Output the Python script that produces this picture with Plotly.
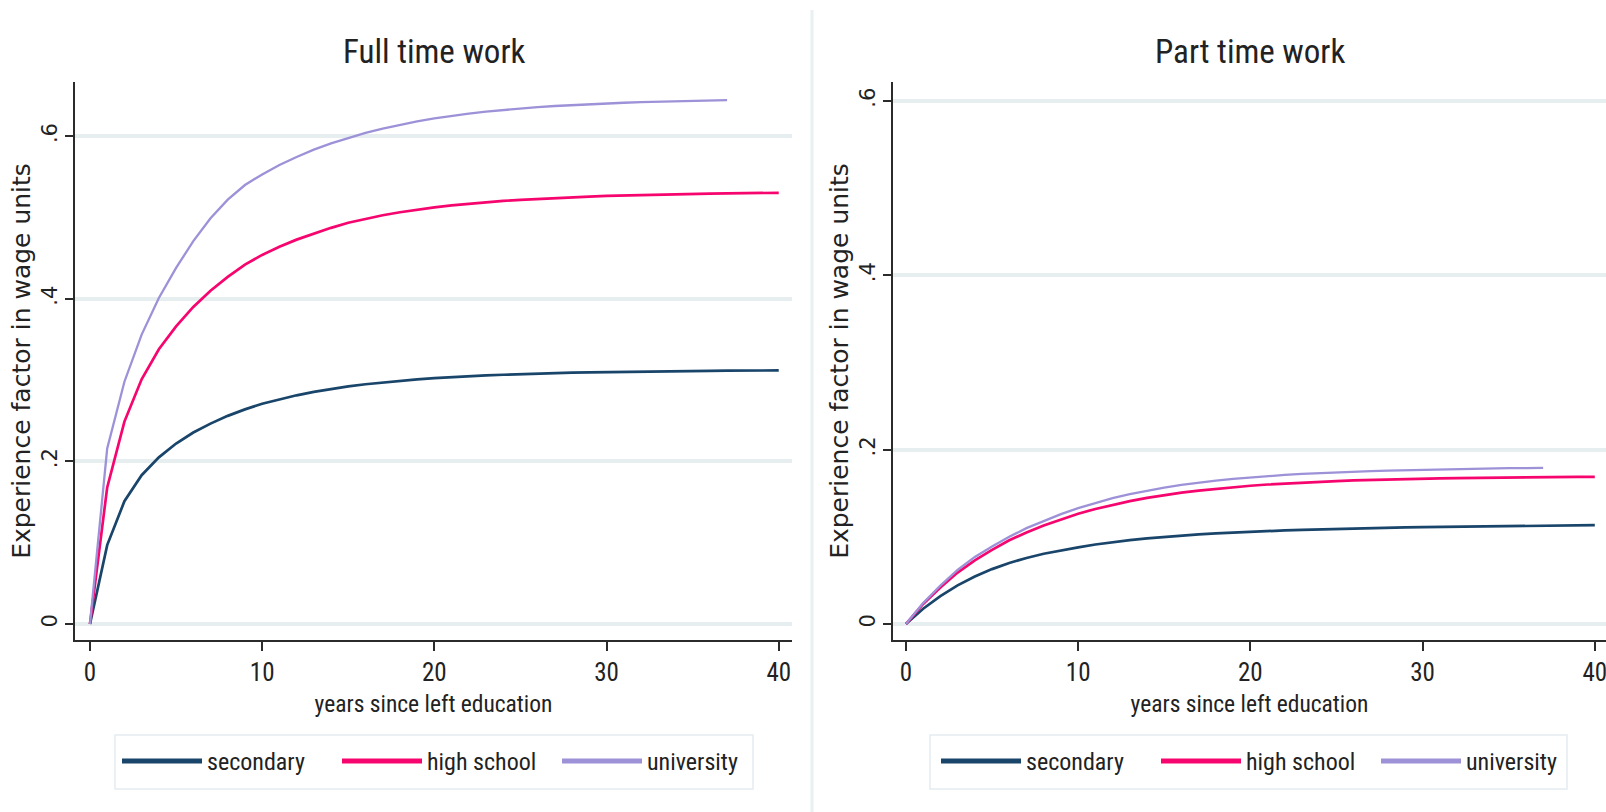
import plotly.graph_objects as go

W, H = 1606, 812

# ---------------- data ----------------
years = list(range(0, 41))
years_uni = list(range(0, 38))

full_secondary = [0, .097, .151, .183, .205, .222, .2355, .2465, .2560, .2640, .2710,
                  .2765, .2813, .2855, .2891, .2922, .2949, .2972, .2992, .3009, .3024,
                  .3037, .3048, .3058, .3066, .3074, .3080, .3086, .3091, .3095, .3099,
                  .3102, .3105, .3108, .3110, .3112, .3114, .3116, .3117, .3118, .3119]
full_highschool = [0, .168, .249, .301, .338, .366, .390, .410, .427, .442, .454,
                   .4640, .4728, .4805, .4873, .4935, .4985, .5028, .5065, .5097, .5125,
                   .5149, .5170, .5188, .5204, .5218, .5230, .5241, .5250, .5258, .5265,
                   .5271, .5277, .5282, .5286, .5290, .5294, .5297, .5300, .5302, .5304]
full_university = [0, .216, .298, .356, .401, .438, .471, .499, .522, .540, .553,
                   .5645, .5745, .5835, .5913, .5980, .6040, .6093, .6140, .6182, .6219,
                   .6251, .6279, .6303, .6324, .6342, .6358, .6372, .6384, .6395, .6404,
                   .6412, .6419, .6425, .6430, .6435, .6439, .6443]

part_secondary = [0, .0175, .0320, .0443, .0545, .0630, .0700, .0758, .0806, .0846, .0880,
                  .0912, .0940, .0963, .0982, .0999, .1015, .1028, .1040, .1050, .1059,
                  .1067, .1074, .1080, .1086, .1091, .1096, .1100, .1104, .1108, .1111,
                  .1114, .1117, .1119, .1122, .1124, .1126, .1128, .1130, .1132, .1134]
part_highschool = [0, .023, .042, .059, .073, .085, .096, .105, .113, .120, .1265,
                   .1320, .1368, .1410, .1447, .1479, .1507, .1531, .1552, .1570, .1586,
                   .1600, .1612, .1623, .1632, .1640, .1647, .1653, .1658, .1663, .1667,
                   .1670, .1673, .1676, .1678, .1680, .1682, .1684, .1686, .1687, .1688]
part_university = [0, .024, .044, .062, .077, .089, .100, .110, .118, .126, .133,
                    .1390, .1443, .1489, .1530, .1565, .1596, .1622, .1645, .1665, .1682,
                    .1697, .1710, .1721, .1731, .1739, .1747, .1754, .1760, .1765, .1770,
                    .1774, .1778, .1781, .1784, .1787, .1789, .1791]

series_names = ["secondary", "high school", "university"]
panel_titles = ["Full time work", "Part time work"]
x_ticks = [0, 10, 20, 30, 40]
y_ticks = [0, .2, .4, .6]
y_tick_labels = ["0", ".2", ".4", ".6"]
x_title = "years since left education"
y_title = "Experience factor in wage units"

# ---------------- styles ----------------
colors = ["#1a456b", "#f7056f", "#9d91d8"]
widths = [2.7, 2.7, 2.3]
NARROW = "Roboto Condensed, Liberation Sans Narrow, Arial Narrow, Liberation Sans, sans-serif"
WIDE = "DejaVu Sans, Verdana, sans-serif"
AXIS_COL = "#2b2b2b"
GRID_COL = "#e6eef0"
TXT = "#222"

fig = go.Figure()

panels = [
    ([years, years, years_uni], [full_secondary, full_highschool, full_university], "x", "y", "legend"),
    ([years, years, years_uni], [part_secondary, part_highschool, part_university], "x2", "y2", "legend2"),
]
for xs_list, ys_list, xa, ya, lg in panels:
    for name, xs, ys, c, w in zip(series_names, xs_list, ys_list, colors, widths):
        fig.add_trace(go.Scatter(x=xs, y=ys, mode="lines", name=name,
                                 line=dict(color=c, width=w),
                                 xaxis=xa, yaxis=ya, showlegend=False, hoverinfo="x+y+name"))
    # legend keys (thicker, like the reference legend)
    for name, c in zip(series_names, colors):
        fig.add_trace(go.Scatter(x=[None], y=[None], mode="lines", name=name,
                                 line=dict(color=c, width=5),
                                 xaxis=xa, yaxis=ya, legend=lg, showlegend=True))

def px_x(p):
    return p / W

def px_y(p):
    return 1 - p / H

yd = [px_y(640), px_y(82)]

common_x = dict(tickmode="array", tickvals=x_ticks, showgrid=False, zeroline=False,
                showline=True, linecolor=AXIS_COL, linewidth=2, ticks="outside",
                ticklen=9, tickwidth=2, tickcolor=AXIS_COL,
                tickfont=dict(family=NARROW, size=25, color=TXT),
                ticklabeloverflow="allow",
                title=dict(text=x_title, font=dict(family=NARROW, size=23.5, color=TXT), standoff=10),
                automargin=False)
common_y = dict(tickmode="array", tickvals=y_ticks, ticktext=y_tick_labels,
                showgrid=True, gridcolor=GRID_COL, gridwidth=4, zeroline=False,
                showline=True, linecolor=AXIS_COL, linewidth=2, ticks="outside",
                ticklen=8, tickwidth=2, tickcolor=AXIS_COL, tickangle=-90,
                tickfont=dict(family=WIDE, size=21, color=TXT),
                title=dict(text=y_title, font=dict(family=WIDE, size=25, color=TXT), standoff=0),
                automargin=False)

leg_common = dict(orientation="h", xanchor="left", yanchor="top",
                  font=dict(family=NARROW, size=24, color=TXT), bgcolor="rgba(0,0,0,0)",
                  borderwidth=0, itemwidth=80, entrywidth=125, entrywidthmode="pixels")

fig.update_layout(
    width=W, height=H,
    margin=dict(l=0, r=0, t=0, b=0),
    paper_bgcolor="white", plot_bgcolor="white",
    xaxis=dict(common_x, domain=[px_x(75), px_x(792)], range=[-0.87, 40.77], anchor="y"),
    yaxis=dict(common_y, domain=yd, range=[-0.0197, 0.6667], anchor="x"),
    xaxis2=dict(common_x, domain=[px_x(893), 1.0], range=[-0.75, 40.65], anchor="y2"),
    yaxis2=dict(common_y, domain=yd, range=[-0.0183, 0.6216], anchor="x2"),
    legend=dict(leg_common, x=px_x(117), y=px_y(739)),
    legend2=dict(leg_common, x=px_x(936), y=px_y(739)),
    showlegend=True,
)

# panel titles
for title, cx in zip(panel_titles, [(75 + 792) / 2, 1250]):
    fig.add_annotation(text=title, xref="paper", yref="paper", x=px_x(cx), y=px_y(51),
                       showarrow=False, xanchor="center", yanchor="middle",
                       font=dict(family=NARROW, size=33, color=TXT))

# legend boxes and separator
fig.add_shape(type="rect", xref="paper", yref="paper", x0=px_x(115), x1=px_x(753),
              y0=px_y(789), y1=px_y(735), line=dict(color="#e3ecef", width=1.5))
fig.add_shape(type="rect", xref="paper", yref="paper", x0=px_x(930), x1=px_x(1567),
              y0=px_y(789), y1=px_y(735), line=dict(color="#e3ecef", width=1.5))
fig.add_shape(type="line", xref="paper", yref="paper", x0=px_x(812), x1=px_x(812),
              y0=0, y1=px_y(10), line=dict(color="#e8f0f2", width=3))

fig.write_html("out.html",
               config={"displayModeBar": False},
               post_script="document.body.style.margin='0';document.body.style.overflow='hidden';")
